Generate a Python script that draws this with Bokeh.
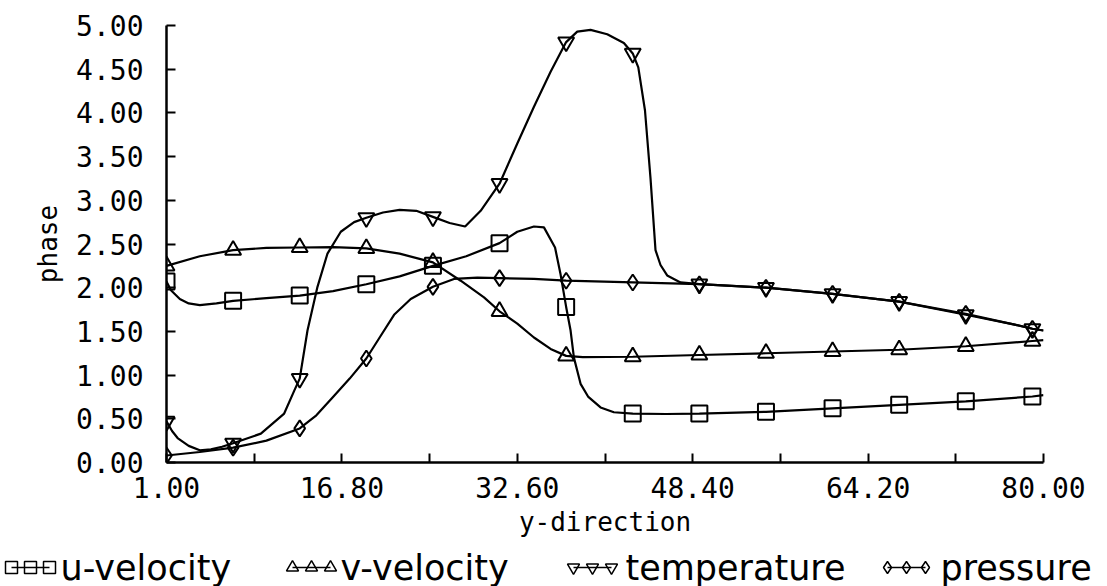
from bokeh.plotting import figure
from bokeh.models import Range1d, FixedTicker, NumeralTickFormatter
from bokeh.layouts import column, row
from bokeh.embed import file_html
from bokeh.resources import INLINE
from bokeh.core.properties import value

# Grid stations that carry a plotting symbol
MARK_X = [1, 7, 13, 19, 25, 31, 37, 43, 49, 55, 61, 67, 73, 79]

# Phase profiles along the y-direction (station, phase)
U_X = [1, 1.4, 2.2, 3.0, 4.0, 5.5, 7, 10, 13, 16, 19, 22, 25, 28, 31, 32.6, 34.1, 35.0,
       36.0, 36.5, 37, 37.4, 37.7, 38.3, 39.0, 40.1, 41.3, 43, 46, 49, 55, 61, 67, 73, 79, 80]
U_Y = [2.07, 1.97, 1.87, 1.82, 1.80, 1.82, 1.85, 1.88, 1.91, 1.96, 2.04, 2.13, 2.25, 2.36, 2.51,
       2.64, 2.70, 2.69, 2.46, 2.15, 1.78, 1.51, 1.20, 0.90, 0.75, 0.63, 0.575, 0.56, 0.555, 0.56,
       0.58, 0.62, 0.66, 0.70, 0.755, 0.77]

V_X = [1, 4, 7, 10, 13, 16, 19, 22, 25, 27.5, 29.6, 31, 32.6, 34.1, 35.6, 37, 38.5, 43, 49, 55,
       61, 67, 73, 79, 80]
V_Y = [2.25, 2.36, 2.43, 2.455, 2.46, 2.465, 2.45, 2.39, 2.29, 2.08, 1.89, 1.73, 1.59, 1.43, 1.30,
       1.22, 1.205, 1.21, 1.23, 1.25, 1.27, 1.29, 1.33, 1.39, 1.40]

T_X = [1, 1.5, 2, 3, 4, 5, 6, 7, 9.5, 11.6, 12.5, 13, 13.7, 14.6, 15.5, 16.7, 17.9, 19, 20.5, 22,
       23.5, 25, 26.5, 27.9, 29.3, 31, 32.6, 34.1, 35.6, 37, 38, 39.2, 40.7, 42.2, 43, 43.5, 44.1,
       44.6, 45.05, 45.5, 46.1, 47.3, 49, 55, 61, 67, 73, 77.3, 79, 80]
T_Y = [0.47, 0.36, 0.28, 0.19, 0.14, 0.15, 0.18, 0.22, 0.33, 0.56, 0.82, 0.96, 1.51, 2.01, 2.39,
       2.64, 2.75, 2.80, 2.86, 2.89, 2.88, 2.81, 2.74, 2.70, 2.88, 3.19, 3.65, 4.07, 4.47, 4.81,
       4.93, 4.95, 4.90, 4.80, 4.68, 4.52, 4.03, 3.25, 2.43, 2.26, 2.14, 2.06, 2.04, 2.00, 1.93,
       1.84, 1.69, 1.58, 1.53, 1.51]

P_X = [1, 4, 7, 10, 13, 14.5, 16, 17.5, 19, 20.3, 21.5, 23, 25, 26.9, 29, 31, 34.1, 37, 43, 49,
       55, 61, 67, 73, 77.3, 79, 80]
P_Y = [0.08, 0.12, 0.17, 0.25, 0.39, 0.54, 0.75, 0.96, 1.19, 1.45, 1.69, 1.87, 2.01, 2.10, 2.115,
       2.11, 2.10, 2.08, 2.06, 2.04, 2.00, 1.93, 1.84, 1.70, 1.58, 1.53, 1.51]

X_TICKS = [1.0, 16.8, 32.6, 48.4, 64.2, 80.0]
X_MINOR = [8.9, 24.7, 40.5, 56.3, 72.1]
Y_TICKS = [0.0, 0.5, 1.0, 1.5, 2.0, 2.5, 3.0, 3.5, 4.0, 4.5, 5.0]

SERIES = [
    ("u-velocity", U_X, U_Y, "square"),
    ("v-velocity", V_X, V_Y, "triangle"),
    ("temperature", T_X, T_Y, "inverted_triangle"),
    ("pressure", P_X, P_Y, "diamond"),
]

MONO = "DejaVu Sans Mono"

p = figure(width=1107, height=545, title=None,
           x_range=Range1d(1, 80), y_range=Range1d(0, 5),
           output_backend="svg", toolbar_location=None,
           min_border_left=166, min_border_right=64,
           min_border_top=25, min_border_bottom=83)
p.outline_line_color = None
p.grid.visible = False
p.background_fill_color = "white"
p.border_fill_color = "white"

p.xaxis.ticker = FixedTicker(ticks=X_TICKS, minor_ticks=X_MINOR)
p.yaxis.ticker = FixedTicker(ticks=Y_TICKS, minor_ticks=[])
p.xaxis.formatter = NumeralTickFormatter(format="0.00")
p.yaxis.formatter = NumeralTickFormatter(format="0.00")
p.xaxis.axis_label = "y-direction"
p.yaxis.axis_label = "phase"

for ax in (p.xaxis[0], p.yaxis[0]):
    ax.axis_line_color = "black"
    ax.axis_line_width = 2.5
    ax.major_tick_in = 9
    ax.major_tick_out = 0
    ax.minor_tick_in = 9
    ax.minor_tick_out = 0
    ax.major_tick_line_width = 2
    ax.minor_tick_line_width = 2
    ax.major_tick_line_color = "black"
    ax.minor_tick_line_color = "black"
    ax.major_label_text_font = MONO
    ax.major_label_text_font_size = "28px"
    ax.major_label_text_color = "black"
    ax.axis_label_text_font = MONO
    ax.axis_label_text_font_size = "26px"
    ax.axis_label_text_font_style = "normal"
    ax.axis_label_text_color = "black"

p.xaxis.major_label_standoff = 14
p.xaxis.axis_label_standoff = 6
p.yaxis.major_label_standoff = 23
p.yaxis.axis_label_standoff = 10

for name, xs, ys, marker in SERIES:
    p.line(xs, ys, line_color="black", line_width=2.2)
    mx = [x for x in xs if x in MARK_X]
    my = [y for x, y in zip(xs, ys) if x in MARK_X]
    p.scatter(mx, my, marker=marker, size=16, fill_color=None,
              line_color="black", line_width=2)

# Legend strip under the axis title
leg = figure(width=1107, height=41, title=None,
             x_range=Range1d(0, 1107), y_range=Range1d(41, 0),
             output_backend="svg", toolbar_location=None,
             x_axis_type=None, y_axis_type=None, min_border=0)
leg.outline_line_color = None
leg.grid.visible = False

SWATCH_X = [11, 292, 573, 887]
LABEL_X = [60, 340, 625, 940]
ROW_Y = 22
for (name, _, _, marker), sx, lx in zip(SERIES, SWATCH_X, LABEL_X):
    xs = [sx, sx + 19, sx + 38]
    leg.line(xs, [ROW_Y] * 3, line_color="black", line_width=1.5)
    leg.scatter(xs, [ROW_Y] * 3, marker=marker, size=12, fill_color=None,
                line_color="black", line_width=1.5)
    leg.text(x=[lx], y=[ROW_Y], text=[name], text_font=value("DejaVu Sans"),
             text_font_size=value("35px"), text_baseline="middle",
             text_align="left", text_color="black")

layout = column(row(p), row(leg), spacing=0)
open("out.html", "w").write(file_html(layout, INLINE))
